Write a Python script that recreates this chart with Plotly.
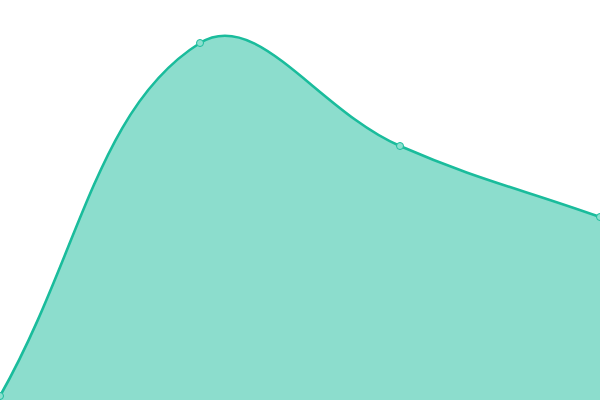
import math
import plotly.graph_objects as go

categories = [0, 1, 2, 3]
values = [4, 357, 254, 183]

W, H = 600, 400
X_RANGE = [0, 3]
Y_RANGE = [0, 400]
TENSION = 0.4
LINE_COLOR = "#1abc9c"
FILL_COLOR = "rgba(26,188,156,0.5)"

sx = W / (X_RANGE[1] - X_RANGE[0])
sy = H / (Y_RANGE[1] - Y_RANGE[0])


def control_points(xs, ys, t):
    n = len(xs)
    cps = []
    for i in range(n):
        p0 = (xs[max(i - 1, 0)] * sx, ys[max(i - 1, 0)] * sy)
        p1 = (xs[i] * sx, ys[i] * sy)
        p2 = (xs[min(i + 1, n - 1)] * sx, ys[min(i + 1, n - 1)] * sy)
        d01 = math.hypot(p1[0] - p0[0], p1[1] - p0[1])
        d12 = math.hypot(p2[0] - p1[0], p2[1] - p1[1])
        s01 = d01 / (d01 + d12) if d01 + d12 else 0
        s12 = d12 / (d01 + d12) if d01 + d12 else 0
        fa, fb = t * s01, t * s12
        prev_cp = (p1[0] - fa * (p2[0] - p0[0]), p1[1] - fa * (p2[1] - p0[1]))
        next_cp = (p1[0] + fb * (p2[0] - p0[0]), p1[1] + fb * (p2[1] - p0[1]))
        prev_cp = (prev_cp[0] / sx, min(max(prev_cp[1] / sy, Y_RANGE[0]), Y_RANGE[1]))
        next_cp = (next_cp[0] / sx, min(max(next_cp[1] / sy, Y_RANGE[0]), Y_RANGE[1]))
        cps.append((prev_cp, next_cp))
    return cps


cps = control_points(categories, values, TENSION)
curve = f"M {categories[0]},{values[0]}"
for i in range(1, len(categories)):
    c1 = cps[i - 1][1]
    c2 = cps[i][0]
    curve += f" C {c1[0]},{c1[1]} {c2[0]},{c2[1]} {categories[i]},{values[i]}"
area = curve + f" L {categories[-1]},{Y_RANGE[0]} L {categories[0]},{Y_RANGE[0]} Z"

fig = go.Figure(go.Scatter(
    x=categories, y=values,
    mode="markers",
    marker=dict(size=7, color="#8ce0cf", line=dict(color=LINE_COLOR, width=1)),
    cliponaxis=False,
    hoverinfo="skip",
))
fig.add_shape(type="path", path=area, xref="x", yref="y",
              fillcolor=FILL_COLOR, line=dict(width=0), layer="below")
fig.add_shape(type="path", path=curve, xref="x", yref="y",
              fillcolor="rgba(0,0,0,0)", line=dict(color=LINE_COLOR, width=2.6), layer="below")
fig.update_layout(
    width=W, height=H,
    margin=dict(l=0, r=0, t=0, b=0),
    paper_bgcolor="white", plot_bgcolor="white",
    showlegend=False,
    xaxis=dict(visible=False, range=X_RANGE),
    yaxis=dict(visible=False, range=Y_RANGE),
)
fig.write_html("out.html", config={"displayModeBar": False},
               post_script="document.body.style.margin='0';")
